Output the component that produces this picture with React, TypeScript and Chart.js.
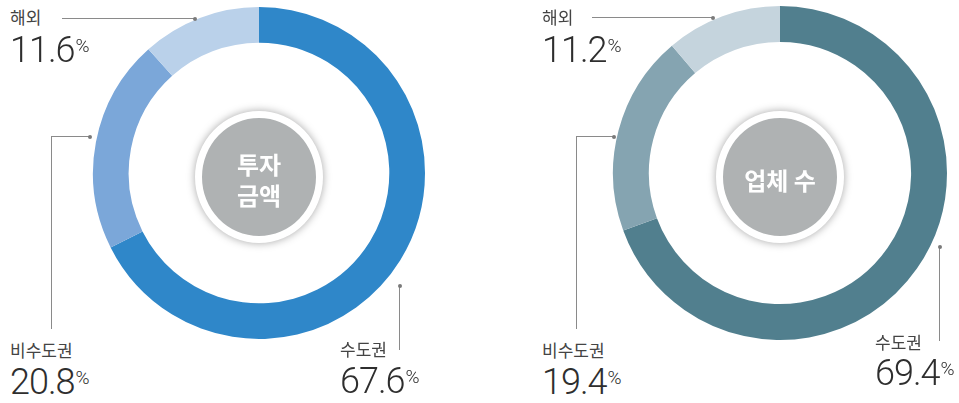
import React, { useEffect, useRef } from "react";
import { Chart, registerables } from "chart.js";

Chart.register(...registerables);

const categories = ["수도권", "비수도권", "해외"];
const investValues = [67.6, 20.8, 11.6];
const companyValues = [69.4, 19.4, 11.2];
const investTitle = ["투자", "금액"];
const companyTitle = ["업체 수"];
const investColors = ["#2f87c9", "#7ba7d9", "#bad1ea"];
const companyColors = ["#517f8e", "#85a4b1", "#c5d4dd"];

const KR = '"Noto Sans CJK KR", "Noto Sans", sans-serif';
const NUM = 'Roboto, "Liberation Sans", sans-serif';
const LINE = "#8a8a8a";

function Donut(props: { values: number[]; colors: string[]; cx: number; cy: number; r: number }) {
  const ref = useRef<HTMLCanvasElement>(null);
  const pad = 4;
  const size = (props.r + pad) * 2;
  useEffect(() => {
    const chart = new Chart(ref.current!, {
      type: "doughnut",
      data: {
        labels: categories,
        datasets: [{ data: props.values, backgroundColor: props.colors, borderWidth: 0 }],
      },
      options: {
        animation: false,
        responsive: false,
        cutout: "78.5%",
        layout: { padding: pad },
        plugins: { legend: { display: false }, tooltip: { enabled: false } },
      },
    });
    return () => chart.destroy();
  }, []);
  return (
    <canvas
      ref={ref}
      width={size}
      height={size}
      style={{ position: "absolute", left: props.cx - size / 2, top: props.cy - size / 2, width: size, height: size }}
    />
  );
}

function Center(props: { cx: number; cy: number; lines: string[] }) {
  const r = 57;
  const b = 7;
  const d = (r + b) * 2;
  return (
    <div
      style={{
        position: "absolute",
        left: props.cx - d / 2,
        top: props.cy - d / 2,
        width: r * 2,
        height: r * 2,
        borderRadius: "50%",
        background: "#afb2b3",
        border: `${b}px solid #ffffff`,
        boxShadow: "0 0 9px rgba(0,0,0,0.35)",
        display: "flex",
        flexDirection: "column",
        alignItems: "center",
        justifyContent: "center",
        color: "#ffffff",
        fontFamily: KR,
        fontWeight: 700,
        fontSize: 24,
        lineHeight: "31px",
        paddingTop: 4,
        boxSizing: "content-box",
      }}
    >
      {props.lines.map((l, i) => (
        <div key={i}>{l}</div>
      ))}
    </div>
  );
}

function Label(props: { name: string; value: number; x: number; nameTop: number; valueTop: number }) {
  return (
    <>
      <div
        style={{
          position: "absolute",
          left: props.x,
          top: props.nameTop,
          fontFamily: KR,
          fontSize: 17,
          lineHeight: "20px",
          color: "#444444",
          whiteSpace: "nowrap",
        }}
      >
        {props.name}
      </div>
      <div
        style={{
          position: "absolute",
          left: props.x,
          top: props.valueTop,
          fontFamily: NUM,
          fontWeight: 300,
          fontSize: 36,
          lineHeight: "36px",
          color: "#2e2e2e",
          whiteSpace: "nowrap",
          display: "flex",
          alignItems: "flex-start",
          letterSpacing: "-1px",
        }}
      >
        <span>{props.value.toFixed(1)}</span>
        <span style={{ fontSize: 19, lineHeight: "18px", marginTop: 5, marginLeft: 1, letterSpacing: 0 }}>%</span>
      </div>
    </>
  );
}

function HLine(props: { x1: number; x2: number; y: number }) {
  return (
    <div style={{ position: "absolute", left: props.x1, top: props.y, width: props.x2 - props.x1, height: 1, background: LINE }} />
  );
}
function VLine(props: { x: number; y1: number; y2: number }) {
  return (
    <div style={{ position: "absolute", left: props.x, top: props.y1, width: 1, height: props.y2 - props.y1, background: LINE }} />
  );
}
function Dot(props: { x: number; y: number }) {
  return (
    <div
      style={{
        position: "absolute",
        left: props.x - 1.5,
        top: props.y - 1.5,
        width: 4,
        height: 4,
        borderRadius: "50%",
        background: "#7a7a7a",
      }}
    />
  );
}

export default function App() {
  return (
    <div style={{ position: "absolute", left: 0, top: 0, width: 959, height: 403, background: "#ffffff", overflow: "hidden" }}>
      <Donut values={investValues} colors={investColors} cx={259} cy={173} r={166} />
      <Donut values={companyValues} colors={companyColors} cx={780} cy={173} r={167} />
      <Center cx={259} cy={175} lines={investTitle} />
      <Center cx={780} cy={175} lines={companyTitle} />

      {/* left chart leaders */}
      <HLine x1={62} x2={194} y={18} />
      <Dot x={194} y={18} />
      <VLine x={51} y1={136} y2={329} />
      <HLine x1={51} x2={89} y={136} />
      <Dot x={89} y={136} />
      <VLine x={399} y1={285} y2={350} />
      <Dot x={399} y={285} />

      {/* right chart leaders */}
      <HLine x1={592} x2={712} y={17} />
      <Dot x={712} y={17} />
      <VLine x={576} y1={136} y2={329} />
      <HLine x1={576} x2={613} y={136} />
      <Dot x={613} y={136} />
      <VLine x={939} y1={246} y2={341} />
      <Dot x={939} y={246} />

      <Label name={categories[2]} value={investValues[2]} x={10} nameTop={7} valueTop={32} />
      <Label name={categories[1]} value={investValues[1]} x={10} nameTop={340} valueTop={364} />
      <Label name={categories[0]} value={investValues[0]} x={340} nameTop={339} valueTop={363} />

      <Label name={categories[2]} value={companyValues[2]} x={542} nameTop={7} valueTop={32} />
      <Label name={categories[1]} value={companyValues[1]} x={542} nameTop={340} valueTop={364} />
      <Label name={categories[0]} value={companyValues[0]} x={875} nameTop={332} valueTop={355} />
    </div>
  );
}
